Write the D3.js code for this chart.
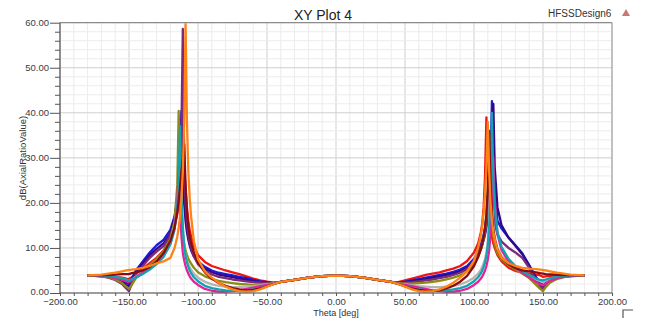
<!DOCTYPE html>
<html><head><meta charset="utf-8">
<script src="https://cdn.jsdelivr.net/npm/d3@7"></script>
<style>
html,body{margin:0;padding:0;background:#fff;}
svg{display:block;font-family:"Liberation Sans",Arial,sans-serif;}
</style></head>
<body><svg id="c" width="659" height="334"></svg>
<script>
const theta = [-180,-170,-165,-160,-155,-152,-150,-148,-145,-140,-135,-130,-125,-120,-117,-115,-114,-113,-112,-111,-110,-109,-108,-107,-106,-105,-103,-100,-95,-90,-85,-80,-75,-70,-65,-60,-55,-50,-45,-40,
 -30,-20,-10,0,10,20,30,
 40,45,50,55,60,65,70,75,80,85,90,95,100,103,105,106,107,108,109,110,111,112,113,114,115,117,120,125,130,135,140,145,148,150,152,155,160,165,170,180];

const arRed = [3.9,3.85,3.75,3.6,3.4,3.2,3.1,3.5,4.2,5.4,6.6,7.8,9.4,12.0,14.8,17.5,19.5,22,24.5,26.5,28,23,19,16,14,12.5,10.4,8.4,6.9,6.0,5.5,5.0,4.6,4.2,3.7,3.2,2.8,2.5,2.3,2.45,
 2.9,3.4,3.75,3.85,3.75,3.4,2.9,
 2.45,2.4,2.8,3.2,3.6,4.0,4.3,4.6,5.0,5.4,6.0,7.1,9.0,11.0,13.5,15.5,19,26,39,26,19,15,12.5,11,10,8.4,7.0,5.6,4.9,4.5,4.3,4.1,3.9,3.6,3.7,3.8,3.85,3.9,3.9,3.9];
const arBlue = [3.9,3.8,3.6,3.3,2.8,2.3,2.0,3.2,5.0,7.0,9.0,10.6,11.8,14.0,17.0,21.0,25.0,31.0,40.4,30.0,22.0,17.5,14.5,12.5,11.0,10.0,8.6,7.0,5.8,5.0,4.5,4.2,3.9,3.6,3.3,2.9,2.6,2.4,2.2,2.45,
 2.9,3.4,3.75,3.85,3.75,3.4,2.9,
 2.45,2.25,2.5,2.8,3.1,3.4,3.7,4.0,4.3,4.7,5.2,6.0,7.6,9.2,10.8,11.8,13,14.5,16.5,19,23,30,42.6,30,24,16,14.3,12.3,10.6,8.8,6.2,3.5,2.4,1.6,2.3,3.0,3.5,3.7,3.8,3.9];
const arIndigo = [3.9,3.75,3.5,3.1,2.5,1.8,1.4,2.8,4.6,6.5,8.4,9.8,11.0,13.2,16.5,20.5,25,30,35,26,20,16,13.5,11.8,10.5,9.5,8.1,6.6,5.4,4.6,4.1,3.8,3.5,3.2,2.9,2.6,2.4,2.2,2.2,2.45,
 2.9,3.4,3.75,3.85,3.75,3.4,2.9,
 2.45,2.2,2.35,2.6,2.9,3.1,3.4,3.7,4.0,4.3,4.8,5.6,7.0,8.5,9.8,10.7,11.8,13,14.5,16.5,19.5,24,31,42,28,19,15.0,12.3,10.5,8.6,6.0,3.2,1.9,1.2,2.0,2.8,3.4,3.65,3.8,3.9];
const arPurple = [3.9,3.7,3.4,2.9,2.0,1.0,0.4,2.0,4.2,6.0,7.8,9.2,10.4,12.8,15.5,19,22,27,36,58.6,30,20,15.5,13.0,11.2,10.0,8.2,6.4,4.9,4.1,3.6,3.3,3.0,2.8,2.6,2.4,2.3,2.2,2.2,2.45,
 2.9,3.4,3.75,3.85,3.75,3.4,2.9,
 2.45,2.2,2.3,2.4,2.6,2.8,3.0,3.3,3.6,4.0,4.5,5.3,6.8,8.4,9.8,10.8,12,13.5,15.5,18.5,24,35,24,18.5,15.5,13,11.4,10.0,9.0,7.8,5.6,2.8,1.4,0.8,1.7,2.6,3.3,3.6,3.75,3.9];
const arOlive = [3.9,3.7,3.5,3.0,2.2,1.4,0.9,1.8,3.3,4.8,6.2,7.6,9.2,12.0,16.0,24,40.4,25,17,13,10.8,9.4,8.4,7.6,7.0,6.5,5.6,4.6,3.7,3.1,2.7,2.4,2.2,2.0,1.9,1.8,1.9,2.0,2.2,2.45,
 2.9,3.4,3.75,3.85,3.75,3.4,2.9,
 2.45,2.2,2.1,2.1,2.2,2.3,2.5,2.7,3.0,3.4,3.9,4.8,6.4,8.0,9.6,10.7,12.2,14.2,17.5,23,33,22,16,12.8,10.8,8.8,7.4,6.2,5.2,4.3,3.3,1.8,0.9,0.4,1.3,2.3,3.1,3.5,3.7,3.9];
const arGray = [3.9,3.85,3.7,3.5,3.1,2.9,2.7,3.0,3.6,4.6,5.8,7.0,8.6,11.4,15,20,24,30,20,14,10.5,8.6,7.3,6.4,5.7,5.2,4.3,3.4,2.5,1.9,1.6,1.4,1.3,1.3,1.4,1.5,1.7,1.9,2.1,2.45,
 2.9,3.4,3.75,3.85,3.75,3.4,2.9,
 2.45,2.1,1.9,1.7,1.5,1.4,1.3,1.3,1.4,1.6,1.9,2.5,3.4,4.3,5.2,5.8,6.6,7.6,9.0,11.5,16,30,20,15,12.5,10,8.2,6.6,5.5,4.6,3.8,3.0,2.6,2.4,2.7,3.1,3.5,3.7,3.85,3.9];
const arPink = [3.9,3.8,3.6,3.3,2.9,2.6,2.4,2.8,3.5,4.5,5.6,6.8,8.4,11.0,14.5,20,28,19,12.5,9.0,7.2,6.0,5.0,4.3,3.7,3.2,2.5,1.8,0.9,0.5,0.3,0.3,0.4,0.6,0.9,1.2,1.5,1.8,2.1,2.45,
 2.9,3.4,3.75,3.85,3.75,3.4,2.9,
 2.45,2.1,1.8,1.5,1.2,0.9,0.6,0.4,0.3,0.3,0.5,0.9,1.8,2.5,3.2,3.7,4.3,5.0,6.0,7.4,9.5,13,20,30,21,13,9.5,7.0,5.6,4.5,3.5,2.4,1.9,1.7,2.1,2.7,3.3,3.6,3.8,3.9];
const arTeal = [3.9,3.9,3.8,3.6,3.3,3.0,2.8,3.0,3.4,4.2,5.2,6.4,8.0,10.8,14.0,19,25,37,22,14.5,10.5,8.2,6.8,5.8,5.0,4.4,3.5,2.6,1.6,1.1,0.8,0.6,0.5,0.5,0.6,0.8,1.1,1.5,2.0,2.45,
 2.9,3.4,3.75,3.85,3.75,3.4,2.9,
 2.45,2.0,1.5,1.1,0.8,0.6,0.5,0.5,0.6,0.8,1.1,1.6,2.6,3.5,4.4,5.0,5.8,6.8,8.2,10.5,14.5,22,40,25,19,13.5,10.2,7.6,6.0,4.9,4.0,3.2,2.9,2.8,3.0,3.3,3.6,3.8,3.9,3.9];
const arMaroon = [3.9,3.95,4.0,4.1,4.2,4.2,4.2,4.4,4.6,5.0,5.8,7.0,8.8,11.6,14.5,18,20.5,23.5,27,30,33,24,18,14.5,12.5,11.0,9.0,6.8,4.6,3.2,2.2,1.6,1.1,0.8,0.6,0.7,1.0,1.5,2.0,2.45,
 2.9,3.4,3.75,3.85,3.75,3.4,2.9,
 2.45,2.0,1.5,1.0,0.7,0.5,0.4,0.6,1.0,1.6,2.5,3.8,6.0,8.0,9.8,11,12.5,14.5,17.5,23,36,24,17.5,14,12,9.5,7.8,6.4,5.5,5.0,4.8,4.6,4.4,4.3,4.2,4.15,4.05,4.0,3.95,3.9];
const arOrange = [3.9,4.1,4.3,4.5,4.8,5.0,5.1,5.2,5.3,5.6,6.0,6.6,7.0,7.8,10,12.5,14.5,17,21,27,38,59.7,38,27,21,17,11.5,7.5,4.8,3.4,2.3,1.4,0.8,0.4,0.3,0.4,0.8,1.4,2.0,2.45,
 2.9,3.4,3.75,3.85,3.75,3.4,2.9,
 2.45,2.0,1.4,0.8,0.4,0.3,0.4,0.8,1.4,2.3,3.4,4.8,7.2,10,13,15,18,22,28,38,27,20,16,13.5,11.8,9.6,7.8,6.6,6.0,5.6,5.4,5.3,5.2,5.1,5.0,4.8,4.5,4.3,4.1,3.9];

const seriesNames = ["red","blue","indigo","purple","olive","gray","pink","teal","maroon","orange"];
const seriesValues = [arRed,arBlue,arIndigo,arPurple,arOlive,arGray,arPink,arTeal,arMaroon,arOrange];
const seriesColors = ["#f01414","#1c1cd8","#2e0a86","#7e2a7c","#8c8c12","#b4b4b4","#e2229a","#12a2b0","#8a0c12","#ff8214"];

const xTicks = [-200,-150,-100,-50,0,50,100,150,200];
const yTicks = [0,10,20,30,40,50,60];

const svg = d3.select("#c");
const W = 659, H = 334;
const m = {l:60, r:612, t:22.7, b:293};
svg.append("rect").attr("width",W).attr("height",H).attr("fill","#fff");

const x = d3.scaleLinear().domain([-200,200]).range([m.l, m.r]);
const y = d3.scaleLinear().domain([0,60]).range([m.b, m.t]);

// grid
const g = svg.append("g");
g.selectAll(".vx").data(d3.range(-200,201,10)).enter().append("line")
  .attr("x1",d=>x(d)).attr("x2",d=>x(d)).attr("y1",m.t).attr("y2",m.b)
  .attr("stroke",d=>xTicks.includes(d)?"#cfcfcf":"#ececec").attr("stroke-width",1);
g.selectAll(".hy").data(d3.range(0,61,2)).enter().append("line")
  .attr("y1",d=>y(d)).attr("y2",d=>y(d)).attr("x1",m.l).attr("x2",m.r)
  .attr("stroke",d=>yTicks.includes(d)?"#cfcfcf":"#ececec").attr("stroke-width",1);

// frame
svg.append("line").attr("x1",m.l).attr("x2",m.r).attr("y1",m.t).attr("y2",m.t).attr("stroke","#7a7a7a");
svg.append("line").attr("x1",m.r).attr("x2",m.r).attr("y1",m.t).attr("y2",m.b).attr("stroke","#9a9a9a");

// curves
svg.append("clipPath").attr("id","clip").append("rect").attr("x",m.l).attr("y",m.t-2).attr("width",m.r-m.l).attr("height",m.b-m.t+2);
const line = d3.line().x((d,i)=>x(theta[i])).y(d=>y(d));
const cg = svg.append("g").attr("clip-path","url(#clip)");
seriesValues.forEach((vals,k)=>{
  cg.append("path").datum(vals).attr("d",line).attr("fill","none")
    .attr("stroke",seriesColors[k]).attr("stroke-width",2.3).attr("stroke-linejoin","round");
});

// axes
const yAxis = d3.axisLeft(y).tickValues(d3.range(0,61,2)).tickSize(5).tickFormat(d=>yTicks.includes(d)?d3.format(".2f")(d):"");
const ya = svg.append("g").attr("transform",`translate(${m.l},0)`).call(yAxis);
ya.selectAll(".tick line").attr("x2",d=>yTicks.includes(d)?-10:-5);
const xAxis = d3.axisBottom(x).tickValues(d3.range(-200,201,10)).tickSize(3).tickFormat(d=>xTicks.includes(d)?d3.format(".2f")(d):"");
const xa = svg.append("g").attr("transform",`translate(0,${m.b})`).call(xAxis);
[ya,xa].forEach(a=>{
  a.select(".domain").attr("stroke","#555").attr("stroke-width",1.2);
  a.selectAll(".tick line").attr("stroke","#555");
  a.selectAll(".tick text").attr("fill","#3a3a48").attr("font-size","9.5px").attr("font-family","Liberation Sans, Arial, sans-serif");
});
ya.select(".domain").attr("d",`M0,${m.b}V${m.t}`);
xa.select(".domain").attr("d",`M${m.l},0H${m.r}`);
ya.selectAll(".tick text").attr("x",-11).attr("y",d=>d===0?-2:0);
xa.selectAll(".tick text").attr("y",5);

// texts
svg.append("text").attr("x",323).attr("y",20).attr("text-anchor","middle").attr("font-size","14px").attr("fill","#222").text("XY Plot 4");
svg.append("text").attr("x",548).attr("y",17).attr("font-size","10px").attr("fill","#333").text("HFSSDesign6");
svg.append("path").attr("d","M622,16 L630,16 L626,9 Z").attr("fill","#c87878");
svg.append("text").attr("x",336).attr("y",316).attr("text-anchor","middle").attr("font-size","9px").attr("fill","#333").text("Theta [deg]");
svg.append("text").attr("transform","translate(26,158) rotate(-90)").attr("text-anchor","middle").attr("font-size","9.5px").attr("fill","#333").text("dB(AxialRatioValue)");
svg.append("path").attr("d","M623,318 V310 H633").attr("fill","none").attr("stroke","#555").attr("stroke-width",1.2);
</script></body></html>
